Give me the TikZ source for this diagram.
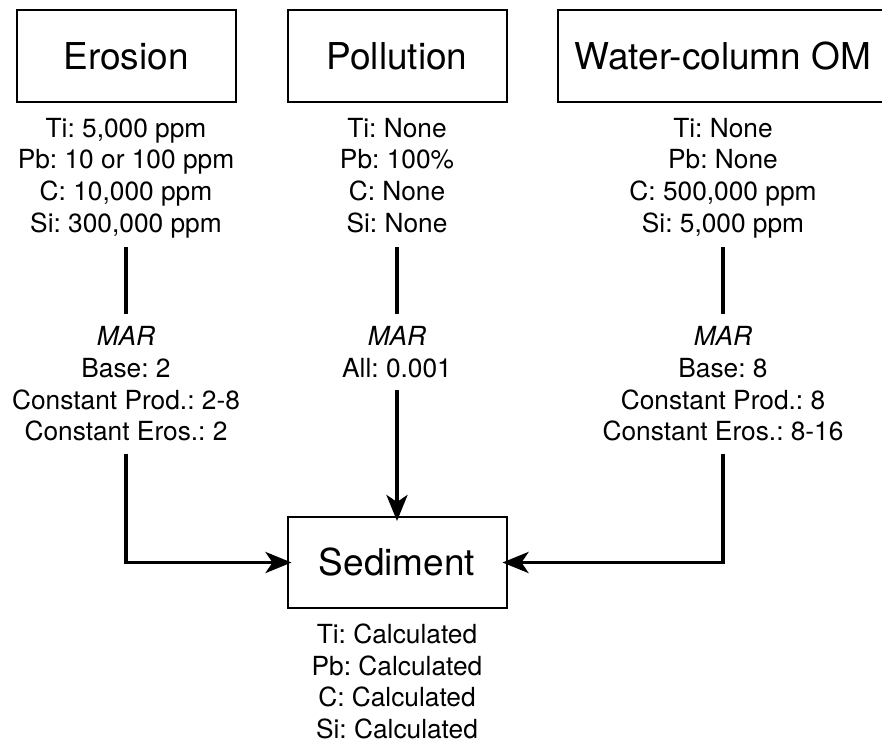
\documentclass[tikz,border=0pt]{standalone}
\usepackage{fontspec}
\setmainfont{TeX Gyre Heros}
\usetikzlibrary{arrows.meta}
\frenchspacing

\begin{document}
\begin{tikzpicture}[x=1pt,y=1pt,yscale=-1,xscale=1]
    \tikzset{
        srcbox/.style={draw,line width=2pt,minimum width=219pt,minimum height=92pt,inner sep=0pt,font=\fontsize{37}{44}\selectfont},
        conc/.style={align=center,inner sep=0pt,anchor=north,font=\fontsize{26.3}{31.7}\selectfont},
        flow/.style={line width=3.8pt},
        flowarrow/.style={line width=3.8pt,-{Stealth[length=26pt,width=21pt,inset=7pt]},shorten >=-5pt}
    }
    \useasboundingbox (0,0) rectangle (882,744);
    %Boxes
    \node[srcbox] (erosion) at (126,56) {Erosion};
    \node[srcbox] (pollution) at (397,56) {Pollution};
    \node[srcbox,minimum width=330pt] (water) at (723,56) {Water-column OM};
    \node[srcbox,minimum height=91pt] (sediment) at (397,562.5) {Sediment};
    % Concentrations
    \node[conc] (erosionconc) at (126,114.8) {\strut Ti: 5,000 ppm\\Pb: 10 or 100 ppm\\C: 10,000 ppm\\Si: 300,000 ppm\strut};
    \node[conc] (pollutionconc) at (397,114.8) {\strut Ti: None\\Pb: 100\%\\C: None\\Si: None\strut};
    \node[conc] (waterconc) at (723,114.8) {\strut Ti: None\\Pb: None\\C: 500,000 ppm\\Si: 5,000 ppm\strut};
    \node[conc] (sedimentconc) at (397,621.1) {\strut Ti: Calculated\\Pb: Calculated\\C: Calculated\\Si: Calculated\strut};
    % MAR
    \node[conc] (erosionmar) at (126,323.5) {\strut\textit{MAR}\\Base: 2\\Constant Prod.: 2-8\\Constant Eros.: 2\strut};
    \node[conc] (pollutionmar) at (397,323.5) {\strut\textit{MAR}\\All: 0.001\strut};
    \node[conc] (watermar) at (723,323.5) {\strut\textit{MAR}\\Base: 8\\Constant Prod.: 8\\Constant Eros.: 8-16\strut};
    % Lines
    \draw[flow,shorten <=5pt,shorten >=9.5pt] (erosionconc) -- (erosionmar);
    \draw[flow,shorten <=5pt,shorten >=9.5pt] (pollutionconc) -- (pollutionmar);
    \draw[flow,shorten <=5pt,shorten >=9.5pt] (waterconc) -- (watermar);
    % Arrows
    \draw[flowarrow,shorten <=3pt] (erosionmar) |- (sediment);
    \draw[flowarrow,shorten <=3pt] (pollutionmar) -- (sediment);
    \draw[flowarrow,shorten <=3pt] (watermar) |- (sediment);
\end{tikzpicture}
\end{document}
